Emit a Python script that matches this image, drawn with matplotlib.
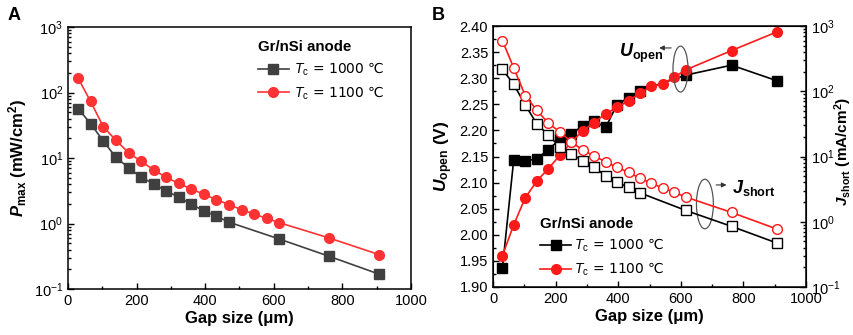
import matplotlib
matplotlib.use("Agg")
import matplotlib.pyplot as plt
from matplotlib.patches import Ellipse
from matplotlib.ticker import MultipleLocator, LogLocator, NullFormatter

plt.rcParams['font.family'] = ['Liberation Sans', 'DejaVu Sans']
plt.rcParams['mathtext.fontset'] = 'custom'
plt.rcParams['mathtext.rm'] = 'Liberation Sans'
plt.rcParams['mathtext.it'] = 'Liberation Sans:italic'
plt.rcParams['mathtext.bf'] = 'Liberation Sans:bold'
plt.rcParams['mathtext.bfit'] = 'Liberation Sans:italic:bold'

# ---------------------------------------------------------------- data
gap_1000 = [30, 66, 103, 140, 177, 213, 250, 286, 323, 360, 396, 433, 469, 616, 762, 908]
gap_1100 = [30, 66, 103, 140, 177, 213, 250, 286, 323, 360, 396, 433, 469, 506, 542, 579, 616, 762, 908]

pmax_1000 = [56.6, 33.4, 18.2, 10.2, 7.1, 5.07, 4.05, 3.13, 2.54, 1.96, 1.57, 1.29, 1.05, 0.58, 0.315, 0.168]
pmax_1100 = [164, 73, 30, 18.6, 12.0, 8.9, 6.6, 5.07, 4.1, 3.36, 2.79, 2.31, 1.94, 1.63, 1.40, 1.20, 1.03, 0.60, 0.334]

uopen_1000 = [1.936, 2.143, 2.141, 2.146, 2.163, 2.183, 2.193, 2.209, 2.218, 2.206, 2.249, 2.263, 2.276, 2.306, 2.325, 2.295]
uopen_1100 = [1.960, 2.019, 2.071, 2.103, 2.127, 2.152, 2.177, 2.199, 2.215, 2.232, 2.244, 2.257, 2.271,
              2.285, 2.289, 2.302, 2.316, 2.353, 2.389]

jshort_1000 = [217, 128, 61.8, 31.6, 21.2, 14.2, 11.1, 8.58, 6.87, 5.06, 4.05, 3.35, 2.78, 1.49, 0.85, 0.47]
jshort_1100 = [597, 230, 85.9, 51.2, 32.4, 23.9, 16.8, 12.6, 10.2, 8.28, 6.87, 5.69, 4.66, 3.91, 3.28,
               2.84, 2.39, 1.39, 0.77]

labels = [r'$T_\mathrm{c}$ = 1000 ℃', r'$T_\mathrm{c}$ = 1100 ℃']

TICK_FS = 10.5
LABEL_FS = 12
# legend text goes through DejaVu so that the ℃ glyph exists
LEG_PROP = {'family': 'DejaVu Sans', 'size': 10}

# ---------------------------------------------------------------- figure
fig = plt.figure(figsize=(8.54, 3.35), dpi=100)
axA = fig.add_axes([0.0796, 0.1373, 0.4016, 0.782])
axB = fig.add_axes([0.5773, 0.1433, 0.3665, 0.779])


def style_ax(ax):
    ax.tick_params(which='both', direction='in', labelsize=TICK_FS, top=False, right=False)
    ax.tick_params(which='major', length=4, width=1)
    ax.tick_params(which='minor', length=2, width=1)
    for s in ax.spines.values():
        s.set_linewidth(1.1)


# ---- panel A
axA.plot(gap_1000, pmax_1000, '-s', color='#404040', ms=6.5, lw=1.2, label=labels[0])
axA.plot(gap_1100, pmax_1100, '-o', color='#ff3333', ms=7, lw=1.2, label=labels[1])
axA.set_yscale('log')
axA.set_xlim(0, 1000)
axA.set_ylim(0.1, 1000)
axA.xaxis.set_major_locator(MultipleLocator(200))
axA.xaxis.set_minor_locator(MultipleLocator(100))
axA.yaxis.set_minor_locator(LogLocator(base=10, subs=range(2, 10)))
axA.yaxis.set_minor_formatter(NullFormatter())
style_ax(axA)
axA.set_xlabel(r'Gap size (μm)', fontsize=LABEL_FS, fontweight='bold', labelpad=2)
axA.set_ylabel(r'$\mathbfit{P}_\mathbf{max}$ (mW/cm$^\mathbf{2}$)', fontsize=LABEL_FS,
               fontweight='bold', labelpad=3)
legA = axA.legend(loc='upper left', bbox_to_anchor=(0.518, 0.997), frameon=False,
                  title='Gr/nSi anode', alignment='left', prop=LEG_PROP, handlelength=2.2,
                  handletextpad=0.4, labelspacing=0.45)
legA.get_title().set_fontweight('bold')
legA.get_title().set_fontsize(10.8)

# ---- panel B
axB.plot(gap_1000, uopen_1000, '-s', color='black', ms=6.5, lw=1.2, label=labels[0])
axB.plot(gap_1100, uopen_1100, '-o', color='#ff1a1a', ms=7, lw=1.2, label=labels[1])
axB.set_xlim(0, 1000)
axB.set_ylim(1.90, 2.40)
axB.xaxis.set_major_locator(MultipleLocator(200))
axB.xaxis.set_minor_locator(MultipleLocator(100))
axB.yaxis.set_major_locator(MultipleLocator(0.05))
axB.yaxis.set_minor_locator(MultipleLocator(0.025))
axB.yaxis.set_major_formatter(plt.FormatStrFormatter('%.2f'))
style_ax(axB)
axB.set_xlabel(r'Gap size (μm)', fontsize=LABEL_FS, fontweight='bold', labelpad=2)
axB.set_ylabel(r'$\mathbfit{U}_\mathbf{open}$ (V)', fontsize=LABEL_FS + 0.5, fontweight='bold', labelpad=3)

axB2 = axB.twinx()
axB2.plot(gap_1000, jshort_1000, '-s', color='black', mfc='white', ms=6.5, lw=1.2)
axB2.plot(gap_1100, jshort_1100, '-o', color='#ff1a1a', mfc='white', ms=7, lw=1.2)
axB2.set_yscale('log')
axB2.set_ylim(0.1, 1000)
axB2.yaxis.set_minor_locator(LogLocator(base=10, subs=range(2, 10)))
axB2.yaxis.set_minor_formatter(NullFormatter())
axB2.tick_params(which='both', direction='in', labelsize=TICK_FS)
axB2.tick_params(which='major', length=4, width=1)
axB2.tick_params(which='minor', length=2, width=1)
axB2.set_ylabel(r'$\mathbfit{J}_\mathbf{short}$ (mA/cm$^\mathbf{2}$)', fontsize=11,
                fontweight='bold', rotation=90)
axB2.yaxis.set_label_coords(1.12, 0.52)
axB2.yaxis.label.set_va('center')
axB2.yaxis.label.set_ha('center')

legB = axB.legend(loc='upper left', bbox_to_anchor=(0.111, 0.318), frameon=False,
                  title='Gr/nSi anode', alignment='left', prop=LEG_PROP, handlelength=2.2,
                  handletextpad=0.2, labelspacing=0.45)
legB.get_title().set_fontweight('bold')
legB.get_title().set_fontsize(10.8)

# ellipses + arrows marking which axis each group belongs to
axB.add_patch(Ellipse((0.599, 0.835), 0.048, 0.176, transform=axB.transAxes,
                      fill=False, ec='#555555', lw=0.9, zorder=5))
axB.annotate('', xy=(0.522, 0.916), xytext=(0.578, 0.916), xycoords='axes fraction',
             arrowprops=dict(arrowstyle='-|>', color='#333333', lw=0.8, mutation_scale=7))
axB.text(0.545, 0.88, r'$\mathbfit{U}_\mathbf{open}$', transform=axB.transAxes,
         ha='right', va='baseline', fontsize=13)

axB.add_patch(Ellipse((0.677, 0.318), 0.054, 0.19, transform=axB.transAxes,
                      fill=False, ec='#555555', lw=0.9, zorder=5))
axB.annotate('', xy=(0.755, 0.391), xytext=(0.704, 0.391), xycoords='axes fraction',
             arrowprops=dict(arrowstyle='-|>', color='#333333', lw=0.8, mutation_scale=7))
axB.text(0.762, 0.36, r'$\mathbfit{J}_\mathbf{short}$', transform=axB.transAxes,
         ha='left', va='baseline', fontsize=13)

# panel letters
fig.text(0.009, 0.955, 'A', fontsize=13, fontweight='bold', va='center')
fig.text(0.506, 0.955, 'B', fontsize=13, fontweight='bold', va='center')

fig.savefig('out.png', dpi=100)
